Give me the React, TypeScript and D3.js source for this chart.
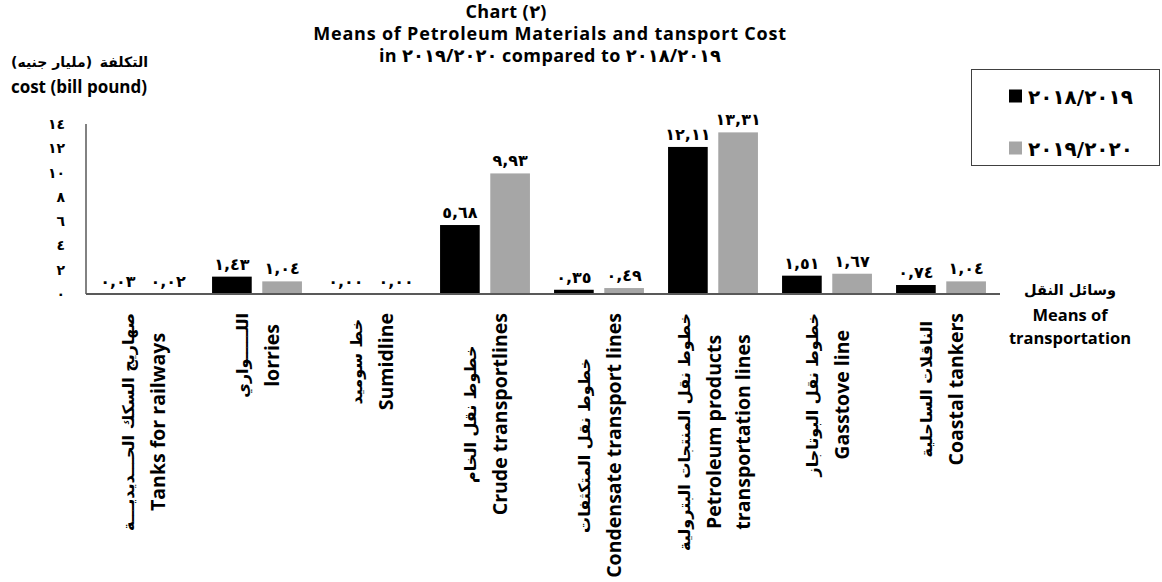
import React, { useEffect, useRef } from 'react';
import * as d3 from 'd3';

const categoriesAr = [
  'صهاريج السكك الحـــديديـــة',
  'اللـــــواري',
  'خط سوميد',
  'خطوط نقل الخام',
  'خطوط نقل المتكثفات',
  'خطوط نقل المنتجات البترولية',
  'خطوط نقل البوتاجاز',
  'الناقلات الساحلية',
];
const categoriesEn = [
  'Tanks  for railways',
  'lorries',
  'Sumidline',
  'Crude transportlines',
  'Condensate transport lines',
  'Petroleum products\ntransportation lines',
  'Gasstove line',
  'Coastal  tankers',
];
const seriesNames = ['٢٠١٨/٢٠١٩', '٢٠١٩/٢٠٢٠'];
const values2018_2019 = [0.03, 1.43, 0.0, 5.68, 0.35, 12.11, 1.51, 0.74];
const values2019_2020 = [0.02, 1.04, 0.0, 9.93, 0.49, 13.31, 1.67, 1.04];
const yTicks = [0, 2, 4, 6, 8, 10, 12, 14];
const seriesColors = ['#000000', '#a6a6a6'];
const titleLines = [
  'Chart (٢)',
  'Means of Petroleum Materials and tansport Cost',
  'in ٢٠١٩/٢٠٢٠ compared to ٢٠١٨/٢٠١٩',
];
const yTitleAr = ['التكلفة', '(مليار جنيه)'];
const yTitleEn = 'cost (bill pound)';
const xTitleLines = ['وسائل النقل', 'Means of', 'transportation'];

const AR_DIGITS = '٠١٢٣٤٥٦٧٨٩';
const toArabicDigits = (s: string) => s.replace(/\d/g, (d) => AR_DIGITS[+d]);
const fmtValue = (v: number) => toArabicDigits(d3.format('.2f')(v).replace('.', ','));

const EN = "'Open Sans', 'DejaVu Sans', sans-serif";
const AR = "'DejaVu Sans', sans-serif";

export default function App() {
  const ref = useRef<SVGSVGElement>(null);

  useEffect(() => {
    document.body.style.margin = '0';
    const svg = d3.select(ref.current);
    svg.selectAll('*').remove();

    const left = 86, right = 998, top = 124, bottom = 294;
    const y = d3.scaleLinear().domain([0, 14]).range([bottom, top]);
    const catIdx = categoriesEn.map((_, i) => String(i));
    const x0 = d3.scaleBand().domain(catIdx).range([left, right]).padding(0);
    const x1 = d3.scaleBand().domain(['0', '1']).range([0, x0.bandwidth()])
      .paddingInner(0.21).paddingOuter(0.24);

    const series = [values2018_2019, values2019_2020];

    // bars
    series.forEach((vals, s) => {
      const g = svg.append('g');
      g.selectAll('rect').data(vals).enter().append('rect')
        .attr('x', (_, i) => (x0(String(i)) as number) + (x1(String(s)) as number))
        .attr('y', (d) => y(d))
        .attr('width', x1.bandwidth())
        .attr('height', (d) => bottom - y(d))
        .attr('fill', seriesColors[s]);
      g.selectAll('text').data(vals).enter().append('text')
        .attr('x', (_, i) => (x0(String(i)) as number) + (x1(String(s)) as number) + x1.bandwidth() / 2)
        .attr('y', (d) => y(d) - 7)
        .attr('text-anchor', 'middle')
        .attr('font-family', AR)
        .attr('font-weight', 'bold')
        .attr('font-size', 16)
        .attr('fill', '#000')
        .text((d) => fmtValue(d));
    });

    // axes lines
    svg.append('line').attr('x1', left).attr('x2', left).attr('y1', top).attr('y2', bottom)
      .attr('stroke', '#595959').attr('stroke-width', 1.5);
    svg.append('line').attr('x1', left).attr('x2', right + 2).attr('y1', bottom).attr('y2', bottom)
      .attr('stroke', '#595959').attr('stroke-width', 2);

    // y tick labels
    svg.append('g').selectAll('text').data(yTicks).enter().append('text')
      .attr('x', 65).attr('y', (d) => y(d) + 5)
      .attr('text-anchor', 'end')
      .attr('font-family', AR).attr('font-weight', 'bold').attr('font-size', 14)
      .text((d) => toArabicDigits(String(d)));

    // x category labels (rotated)
    categoriesEn.forEach((en, i) => {
      const lines = [categoriesAr[i], ...en.split('\n')];
      const cx = (x0(String(i)) as number) + x0.bandwidth() / 2;
      const spacing = 29;
      const g = svg.append('g');
      const texts = lines.map((ln, j) => g.append('text')
        .attr('text-anchor', 'middle')
        .attr('dominant-baseline', 'central')
        .attr('font-family', j === 0 ? AR : EN)
        .attr('font-weight', 'bold')
        .attr('font-size', j === 0 ? 16 : 19.5)
        .text(ln));
      const maxLen = d3.max(texts, (t) => (t.node() as SVGTextElement).getComputedTextLength()) || 0;
      const yc = 313 + maxLen / 2;
      texts.forEach((t, j) => {
        const lx = cx + (j - (lines.length - 1) / 2) * spacing;
        t.attr('transform', `translate(${lx},${yc}) rotate(-90)`);
      });
    });

    // title
    const titleX = [506, 550, 550];
    const titleY = [18, 40, 62];
    titleLines.forEach((t, i) => {
      svg.append('text').attr('x', titleX[i]).attr('y', titleY[i])
        .attr('text-anchor', 'middle').attr('font-family', EN)
        .attr('font-weight', 'bold').attr('font-size', 18)
        .attr('letter-spacing', i === 1 ? 0.8 : 0.4)
        .attr('fill', '#000')
        .text(t);
    });

    // y axis title
    svg.append('text').attr('x', 148).attr('y', 67).attr('text-anchor', 'end')
      .attr('font-family', AR).attr('font-weight', 'bold').attr('font-size', 14)
      .text(yTitleAr[0]);
    svg.append('text').attr('x', 11).attr('y', 67).attr('text-anchor', 'start')
      .attr('font-family', AR).attr('font-weight', 'bold').attr('font-size', 14)
      .text(yTitleAr[1]);
    svg.append('text').attr('x', 79).attr('y', 93).attr('text-anchor', 'middle')
      .attr('font-family', EN).attr('font-weight', 'bold').attr('font-size', 17)
      .text(yTitleEn);

    // x axis title
    const xtY = [295, 321, 344];
    xTitleLines.forEach((t, i) => {
      svg.append('text').attr('x', 1070).attr('y', xtY[i]).attr('text-anchor', 'middle')
        .attr('font-family', i === 0 ? AR : EN).attr('font-weight', 'bold')
        .attr('font-size', i === 0 ? 14.5 : 16.5)
        .text(t);
    });

    // legend
    const lg = svg.append('g');
    lg.append('rect').attr('x', 971.5).attr('y', 69.5).attr('width', 188).attr('height', 96)
      .attr('fill', '#fff').attr('stroke', '#404040').attr('stroke-width', 1);
    const legendY = [96, 148];
    seriesNames.forEach((name, s) => {
      lg.append('rect').attr('x', 1009).attr('y', legendY[s] - 6.5).attr('width', 13).attr('height', 13)
        .attr('fill', seriesColors[s]);
      lg.append('text').attr('x', 1028).attr('y', legendY[s] + 8)
        .attr('font-family', AR).attr('font-weight', 'bold').attr('font-size', 20)
        .text(name);
    });
  }, []);

  return (
    <svg
      ref={ref}
      width={1162}
      height={582}
      style={{ position: 'absolute', left: 0, top: 0, background: '#fff' }}
    />
  );
}
